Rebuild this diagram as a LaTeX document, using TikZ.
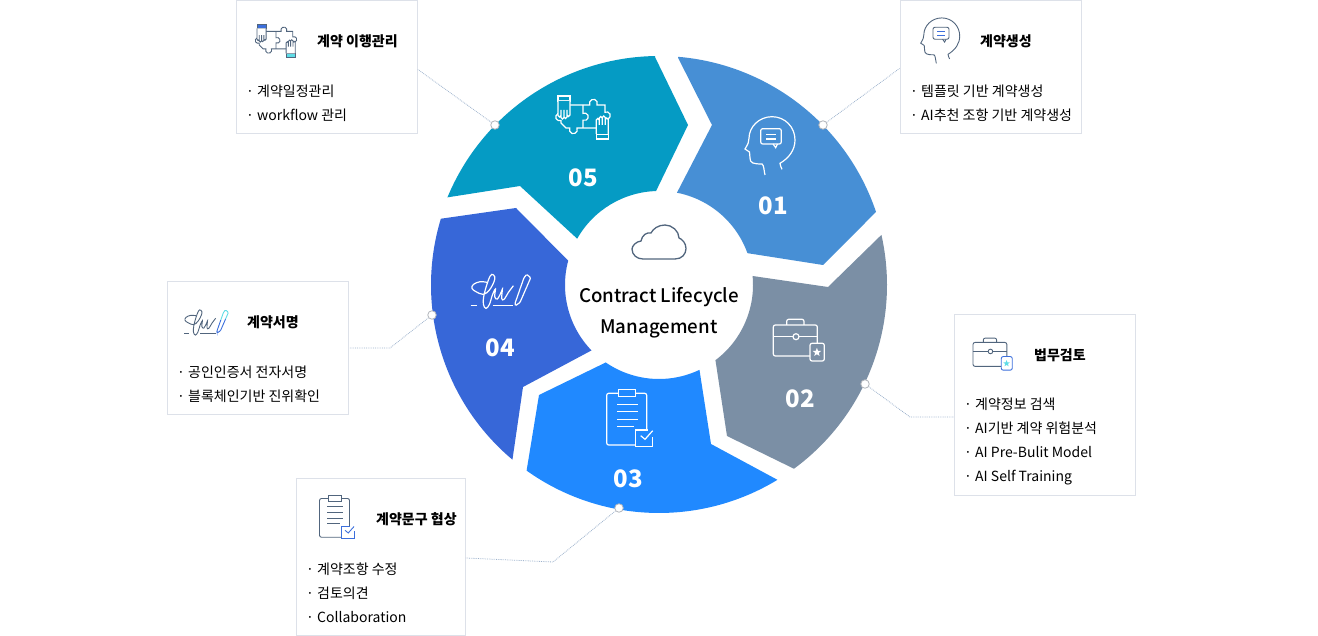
\documentclass[tikz,border=0pt]{standalone}
\usepackage{fontspec}
\setmainfont{Noto Sans CJK KR}
\newfontfamily\midfont{Noto Sans CJK KR Medium}
\usepackage{xcolor}

\definecolor{seg01}{HTML}{478FD5}
\definecolor{seg02}{HTML}{7B8FA5}
\definecolor{seg03}{HTML}{2089FF}
\definecolor{seg04}{HTML}{3767D8}
\definecolor{seg05}{HTML}{059BC4}
\definecolor{boxline}{HTML}{DDE1E9}
\definecolor{linkline}{HTML}{9DB2CC}
\definecolor{iconline}{HTML}{51657D}
\definecolor{iconblue}{HTML}{3C6FDC}
\definecolor{iconcyan}{HTML}{5FDCE6}

\newcommand{\handmark}[2]{
  \draw[fill=#1] (-6,-12) rectangle (6,-7);
  \draw[fill=#2] (-6,-7) -- (-6,7) arc[start angle=180, end angle=0, radius=1.5] -- (-3,2) -- (-3,9)
    arc[start angle=180, end angle=0, radius=1.5] -- (0,2) -- (0,9.5)
    arc[start angle=180, end angle=0, radius=1.5] -- (3,2) -- (3,7.5)
    arc[start angle=180, end angle=0, radius=1.5] -- (6,-7);
}
\newcommand{\starmark}{
  (90:4.5) -- (126:1.9) -- (162:4.5) -- (198:1.9) -- (234:4.5) -- (270:1.9) -- (306:4.5) -- (342:1.9) -- (18:4.5) -- (54:1.9) -- cycle
}

\tikzset{
  pics/headicon/.style n args={2}{code={
    \draw[draw=#1] (11,-24.3) .. controls (10,-22) and (9,-20) .. (9,-18.3)
      .. controls (18,-13) and (24,-5) .. (24,5)
      .. controls (24,18) and (14,28.3) .. (1,28.3)
      .. controls (-12,28.3) and (-22,18) .. (-22,6.7)
      .. controls (-22,3) and (-23,1) .. (-26,-4)
      -- (-21.5,-7) -- (-21,-13) .. controls (-21,-18) and (-18,-19) .. (-9,-19)
      .. controls (-7,-20) and (-7,-26) .. (-6,-30);
    \draw[draw=#1, rounded corners=2pt] (-10.3,16.3) rectangle (10.3,1);
    \draw[draw=#1] (2,1) -- (4.7,-2.7) -- (6.5,1);
    \draw[draw=#2] (-5,10.7) -- (5,10.7) (-5,6) -- (5,6);
  }},
  pics/puzzleicon/.style n args={4}{code={
    \begin{scope}[draw=#1]
      \draw (-13,10) -- (6.8,10) arc[start angle=205, end angle=-25, radius=4] -- (22,10) -- (22,2.8)
        arc[start angle=115, end angle=-115, radius=3.7] -- (22,-13) -- (-6,-13)
        arc[start angle=25, end angle=-205, radius=4] -- (-17,-13) -- (-22,-8) -- (-22,-5.4)
        arc[start angle=-65, end angle=-295, radius=3.7] -- (-22,10) -- cycle;
      \draw (0,10) -- (0,1.6) arc[start angle=115, end angle=-115, radius=3.7] -- (0,-13);
      \begin{scope}[shift={(-19,7)}, rotate=180]
        \handmark{#2}{#4}
      \end{scope}
      \begin{scope}[shift={(19.3,-12)}]
        \handmark{#3}{#4}
      \end{scope}
    \end{scope}
  }},
  pics/caseicon/.style n args={3}{code={
    \draw[draw=#1, rounded corners=2pt] (12,-16) -- (-24.7,-16) -- (-24.7,15) -- (19.3,15) -- (19.3,-3.3);
    \draw[draw=#1, rounded corners=2pt] (-11.3,15) -- (-11.3,20.7) -- (6,20.7) -- (6,15);
    \draw[draw=#1] (-24.7,3.3) -- (-5,3.3) (1,3.3) -- (19.3,3.3);
    \draw[draw=#1] (-2,3.3) circle (3);
    \draw[draw=#2, rounded corners=2pt] (12,-3.3) rectangle (26.3,-21);
    \fill[#3, shift={(18.9,-12.3)}] \starmark;
  }},
  pics/boardicon/.style n args={3}{code={
    \draw[draw=#1, rounded corners=2pt] (16.7,-12) -- (16.7,24.7) -- (-23.3,24.7) -- (-23.3,-27) -- (5.7,-27);
    \draw[draw=#1, fill=#3] (-11.7,28.7) rectangle (5.7,21.3);
    \draw[draw=#1] (-12.7,13.7) -- (7.7,13.7) (-12.7,6.3) -- (7.7,6.3) (-12.7,-1.3) -- (7.7,-1.3) (-12.7,-8.7) -- (3.5,-8.7);
    \draw[draw=#2] (17.5,-12) -- (5.7,-12) -- (5.7,-28.7) -- (22.7,-28.7) -- (22.7,-19);
    \draw[draw=#2] (10.7,-17.7) -- (15,-21.3) -- (22.7,-12.7);
  }},
  pics/signicon/.style n args={3}{code={
    \draw[draw=#1] plot[smooth, tension=0.6] coordinates {(-14.3,9.3) (-21.7,10) (-28.3,7.3) (-29.7,3.3) (-25.7,0) (-18.3,-2.7) (-12.3,1.7) (-7.7,10) (-7,15) (-10,17.3) (-13.3,11.7) (-17.7,-3.3) (-18.3,-12.7) (-15.7,-16.7) (-12.3,-12.7) (-9.3,-3.3) (-6.3,2.7) (-7,-5) (-4.3,-7.3) (-0.3,0) (0.7,2.7) (0,-6.7) (2.3,-7.7) (6.7,-0.7) (11.7,6)};
    \draw[draw=#1] (-31,-14) -- (-24.3,-14) (-9,-14) -- (11.7,-14);
    \draw[draw=#3, rounded corners=1pt] (18.6,3.5) -- (22.3,14) -- (25,17.3) -- (29,14) -- (25.1,5);
    \draw[draw=#2, rounded corners=1pt] (18.6,3.5) -- (13.3,-11.7) -- (13.8,-14) -- (18.3,-10.7) -- (25.1,5);
  }},
  pics/cloudicon/.style={code={
    \draw (-16,-16) -- (16,-16) .. controls (23,-16) and (27,-11) .. (27,-5.5)
      .. controls (27,0) and (23,4) .. (20,5)
      .. controls (20,12) and (13,18) .. (6,18)
      .. controls (-1,18) and (-6,14) .. (-8,10)
      .. controls (-12,11) and (-17,8) .. (-18,2)
      .. controls (-23,1.5) and (-27,-3) .. (-27,-6)
      .. controls (-27,-12) and (-22,-16) .. (-16,-16) -- cycle;
  }}
}

\begin{document}
\begin{tikzpicture}[
      x=1pt, y=1pt,
      boxnode/.style={draw=boxline, line width=0.9pt, anchor=north west, inner sep=0pt},
      titlenode/.style={anchor=west, inner sep=0pt, font=\fontsize{14}{16}\selectfont\bfseries},
      listnode/.style={anchor=west, inner sep=0pt, align=left, font=\fontsize{14}{24}\selectfont},
      numnode/.style={inner sep=0pt, text=white, font=\fontsize{24}{30}\selectfont\bfseries},
      dotnode/.style={circle, draw=boxline!80!black, fill=white, line width=0.8pt, minimum size=8.5pt, inner sep=0pt},
      linkline/.style={draw=linkline, densely dotted, line width=0.8pt},
      iconbig/.style={line width=1.2pt},
      iconsmall/.style={line width=0.9pt}
    ]
    \useasboundingbox (0,0) rectangle (1318,-636);

    % five segments
    \begin{scope}[shift={(659,-285)}]
      \fill[seg01] (85.2:228) -- (53,160) -- (79:94) arc[start angle=79, end angle=19.8, radius=94] -- (164,20)
        -- (18.6:229) arc[start angle=18.6, end angle=85.2, radius=229] -- cycle;
      \fill[seg02] (12.7:228) -- (169,-2) -- (5.5:94) arc[start angle=5.5, end angle=-53.1, radius=94] -- (68,-151)
        -- (-53.7:228) arc[start angle=-53.7, end angle=12.7, radius=228] -- cycle;
      \fill[seg03] (-64.5:94) arc[start angle=-64.5, end angle=-124.5, radius=94] -- (-120,-110)
        -- (-125.5:228) arc[start angle=-125.5, end angle=-58.7, radius=228] -- (52,-159) -- cycle;
      \fill[seg04] (224.1:94) -- (-136,-102) -- (230:228) arc[start angle=230, end angle=163.1, radius=228]
        -- (-143,77) -- (165:94) arc[start angle=165, end angle=224.1, radius=94] -- cycle;
      \fill[seg05] (91:228) -- (29,160) -- (91.8:94) arc[start angle=91.8, end angle=150.5, radius=94] -- (-139,99)
        -- (157.5:229) arc[start angle=157.5, end angle=91, radius=229] -- cycle;
    \end{scope}

    \node[numnode] (num01) at (773.5,-206) {01};
    \node[numnode] (num02) at (800,-399) {02};
    \node[numnode] (num03) at (628,-479) {03};
    \node[numnode] (num04) at (500,-348) {04};
    \node[numnode] (num05) at (583,-178) {05};

    \pic[iconbig] (seg01icon) at (771,-145) {headicon={white}{white}};
    \pic[iconbig] (seg02icon) at (798,-340) {caseicon={white}{white}{white}};
    \pic[iconbig] (seg03icon) at (630,-418) {boardicon={white}{white}{seg03}};
    \pic[iconbig] (seg04icon) at (501.7,-291.7) {signicon={white}{white}{white}};
    \pic[iconbig] (seg05icon) at (583,-115) {puzzleicon={white}{seg05}{seg05}{seg05}};

    % centre
    \pic[draw=iconline, line width=1.3pt] (cloud) at (659,-243) {cloudicon};
    \node[inner sep=0pt, align=center, font=\fontsize{18.7}{31}\selectfont\midfont] (centre) at (659,-312.5) {Contract Lifecycle\\Management};

    % boxes
    \node[boxnode, minimum width=181pt, minimum height=133pt] (box01) at (899.5,-0.5) {};
    \node[boxnode, minimum width=181pt, minimum height=180.5pt] (box02) at (953.5,-314.5) {};
    \node[boxnode, minimum width=169pt, minimum height=157pt] (box03) at (296,-478) {};
    \node[boxnode, minimum width=181pt, minimum height=132pt] (box04) at (167,-281.5) {};
    \node[boxnode, minimum width=181pt, minimum height=133pt] (box05) at (236,-0.5) {};

    \node[titlenode] (title01) at (980,-41.5) {계약생성};
    \node[titlenode] (title02) at (1034,-355) {법무검토};
    \node[titlenode] (title03) at (376,-519) {계약문구 협상};
    \node[titlenode] (title04) at (247,-322) {계약서명};
    \node[titlenode] (title05) at (317,-41.5) {계약 이행관리};

    \node[listnode] (list01) at (910,-103) {· 템플릿 기반 계약생성\\· AI추천 조항 기반 계약생성};
    \node[listnode] (list02) at (964,-441.5) {· 계약정보 검색\\· AI기반 계약 위험분석\\· AI Pre-Bulit Model\\· AI Self Training};
    \node[listnode] (list03) at (306,-593) {· 계약조항 수정\\· 검토의견\\· Collaboration};
    \node[listnode] (list04) at (177,-384) {· 공인인증서 전자서명\\· 블록체인기반 진위확인};
    \node[listnode] (list05) at (246,-103) {· 계약일정관리\\· workflow 관리};

    \pic[iconsmall, scale=0.78] (box01icon) at (941,-40) {headicon={iconline}{iconblue}};
    \pic[iconsmall, scale=0.77] (box02icon) at (992,-354) {caseicon={iconline}{iconblue}{iconcyan}};
    \pic[iconsmall, scale=0.75] (box03icon) at (337,-517) {boardicon={iconline}{iconblue}{white}};
    \pic[iconsmall, scale=0.74] (box04icon) at (207,-322.7) {signicon={iconline}{iconblue}{iconcyan}};
    \pic[iconsmall, scale=0.76] (box05icon) at (276,-39) {puzzleicon={iconline}{iconblue}{iconcyan}{white}};

    % callout points
    \node[dotnode] (dot01) at (823,-125) {};
    \node[dotnode] (dot02) at (865,-384) {};
    \node[dotnode] (dot03) at (619,-508) {};
    \node[dotnode] (dot04) at (432,-315) {};
    \node[dotnode] (dot05) at (495,-125) {};

    \coordinate (bend02) at (910,-417);
    \coordinate (bend03) at (553,-562);
    \coordinate (bend04) at (390,-348);

    \draw[linkline] (dot01) -- ([yshift=-68pt]box01.north west);
    \draw[linkline] (dot02) -- (bend02) -- (bend02 -| box02.west);
    \draw[linkline] (dot03) -- (bend03) -- ([yshift=-80pt]box03.north east);
    \draw[linkline] (dot04) -- (bend04) -- (bend04 -| box04.east);
    \draw[linkline] (dot05) -- ([yshift=-69pt]box05.north east);
\end{tikzpicture}
\end{document}
